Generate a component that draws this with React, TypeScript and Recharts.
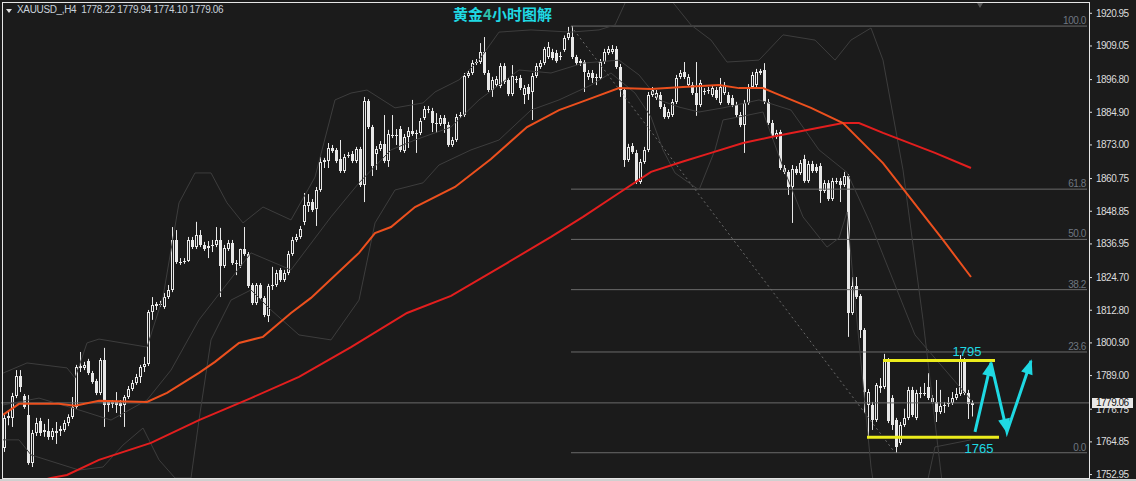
import React from 'react';
import { ComposedChart, Bar, Line, XAxis, YAxis, ReferenceLine, ReferenceDot } from 'recharts';

const BG = '#1b1b1b';
const CANDLE = '#e8e8e8';
const FAST = '#ec501e';
const SLOW = '#e31e1e';
const BAND = '#3d3d3d';
const FIB = '#6b6b6b';
const CYAN = '#1fd9e3';
const YELLOW = '#ecec1c';
const AXIS_FONT = 'Liberation Sans, Arial, sans-serif';

// XAUUSD H4 candles: open, high, low, close
const candles: number[][] = [
  [1762.7, 1774.7, 1761.2, 1773.6], [1773.6, 1775.8, 1770.9, 1774.3], [1773.6, 1782.7, 1770.3, 1781.6], [1781.6, 1791.0, 1780.8, 1788.9], [1788.9, 1791.0, 1783.0, 1784.9],
  [1781.6, 1782.3, 1776.9, 1777.6], [1774.7, 1781.9, 1756.5, 1757.2], [1757.2, 1769.2, 1755.7, 1768.1], [1768.1, 1773.6, 1767.0, 1771.7], [1772.5, 1773.6, 1767.0, 1768.1],
  [1769.2, 1771.4, 1766.7, 1768.5], [1768.8, 1773.2, 1765.6, 1766.7], [1766.7, 1769.9, 1765.6, 1768.8], [1768.8, 1772.1, 1764.1, 1768.1], [1768.8, 1770.7, 1767.0, 1769.6],
  [1769.2, 1772.8, 1768.5, 1771.7], [1771.7, 1774.9, 1770.6, 1773.9], [1773.9, 1781.2, 1773.2, 1777.6], [1777.6, 1792.9, 1776.9, 1792.1], [1791.8, 1797.6, 1790.3, 1792.5],
  [1791.8, 1794.0, 1791.0, 1792.9], [1794.3, 1795.1, 1789.2, 1789.9], [1789.9, 1790.7, 1786.0, 1786.7], [1787.0, 1787.8, 1781.9, 1782.7], [1782.7, 1795.4, 1781.9, 1794.7],
  [1794.7, 1799.1, 1770.3, 1778.3], [1779.4, 1780.1, 1775.8, 1778.3], [1778.7, 1780.1, 1777.2, 1779.4], [1779.4, 1783.0, 1775.4, 1778.3], [1779.0, 1780.1, 1773.9, 1777.9],
  [1778.3, 1781.9, 1770.3, 1781.2], [1781.2, 1785.2, 1780.5, 1784.1], [1784.1, 1787.4, 1783.4, 1786.3], [1786.3, 1789.6, 1785.6, 1788.5], [1788.5, 1792.9, 1786.3, 1792.1],
  [1792.1, 1795.8, 1790.3, 1793.2], [1793.2, 1812.9, 1792.5, 1812.2], [1812.2, 1817.6, 1809.3, 1814.7], [1814.4, 1815.8, 1812.9, 1815.1], [1814.7, 1816.2, 1814.0, 1815.1],
  [1814.0, 1819.1, 1813.3, 1817.6], [1817.6, 1822.0, 1816.9, 1820.2], [1820.2, 1843.1, 1819.4, 1838.4], [1838.4, 1842.0, 1829.7, 1830.4], [1830.4, 1831.8, 1829.3, 1830.0],
  [1830.4, 1831.8, 1829.7, 1830.7], [1830.7, 1839.5, 1830.4, 1838.4], [1838.4, 1839.5, 1835.1, 1835.8], [1835.8, 1845.0, 1835.1, 1840.2], [1840.2, 1842.0, 1835.8, 1836.6],
  [1836.6, 1837.7, 1834.4, 1835.1], [1835.5, 1838.0, 1831.8, 1836.2], [1836.2, 1838.4, 1834.0, 1836.6], [1836.6, 1843.1, 1835.8, 1838.4], [1838.4, 1842.8, 1817.6, 1828.9],
  [1828.9, 1836.6, 1828.2, 1835.5], [1835.1, 1838.4, 1834.4, 1837.3], [1837.3, 1838.4, 1829.3, 1830.0], [1830.0, 1831.1, 1825.6, 1829.6], [1828.9, 1835.2, 1828.2, 1835.1],
  [1835.1, 1843.1, 1832.6, 1833.3], [1833.3, 1834.0, 1820.9, 1821.6], [1822.0, 1822.7, 1814.7, 1815.4], [1815.4, 1822.7, 1814.7, 1822.0], [1822.0, 1822.7, 1816.5, 1817.3],
  [1817.3, 1818.0, 1810.3, 1811.1], [1810.7, 1822.4, 1808.5, 1821.6], [1821.6, 1828.6, 1820.2, 1822.0], [1822.0, 1827.5, 1821.3, 1826.4], [1827.5, 1828.2, 1823.1, 1823.8],
  [1823.8, 1827.5, 1823.1, 1826.4], [1826.4, 1834.4, 1825.6, 1833.3], [1833.3, 1839.5, 1832.6, 1838.4], [1838.4, 1840.6, 1837.7, 1839.5], [1839.5, 1843.5, 1838.8, 1842.4],
  [1844.9, 1855.5, 1843.8, 1851.1], [1850.8, 1855.1, 1848.6, 1852.2], [1852.2, 1853.3, 1848.6, 1849.3], [1849.7, 1857.7, 1843.5, 1856.6], [1856.6, 1868.6, 1855.9, 1866.8],
  [1866.8, 1868.3, 1864.6, 1867.5], [1867.2, 1873.7, 1864.6, 1871.9], [1871.9, 1873.0, 1870.1, 1870.8], [1871.2, 1871.9, 1866.4, 1867.2], [1867.9, 1874.8, 1862.8, 1863.5],
  [1863.5, 1869.7, 1862.8, 1868.6], [1869.0, 1870.4, 1868.3, 1869.4], [1869.7, 1870.8, 1866.4, 1867.2], [1867.2, 1872.3, 1866.4, 1871.5], [1871.5, 1872.3, 1857.7, 1858.4],
  [1858.4, 1890.5, 1852.2, 1889.0], [1889.0, 1889.7, 1878.8, 1879.5], [1879.5, 1880.3, 1861.7, 1865.3], [1869.7, 1872.6, 1863.9, 1871.5], [1871.5, 1874.4, 1870.8, 1873.4],
  [1873.4, 1883.9, 1866.4, 1867.2], [1867.2, 1878.5, 1865.0, 1877.0], [1876.3, 1883.9, 1875.5, 1876.6], [1876.6, 1878.8, 1873.0, 1876.3], [1878.8, 1879.9, 1870.4, 1871.2],
  [1870.8, 1877.0, 1870.1, 1875.9], [1875.9, 1879.5, 1871.9, 1878.1], [1878.1, 1889.4, 1876.3, 1877.0], [1877.4, 1878.5, 1870.1, 1877.0], [1877.4, 1882.8, 1876.6, 1881.7],
  [1882.8, 1887.2, 1882.1, 1886.1], [1885.7, 1887.2, 1884.6, 1886.1], [1885.4, 1886.5, 1877.7, 1881.0], [1881.0, 1884.6, 1877.4, 1880.6], [1880.6, 1883.9, 1879.9, 1882.8],
  [1882.8, 1883.9, 1877.4, 1880.6], [1880.3, 1881.4, 1872.3, 1873.0], [1873.0, 1875.9, 1872.3, 1874.8], [1874.8, 1884.3, 1874.1, 1883.2], [1883.6, 1885.0, 1882.8, 1883.9],
  [1883.9, 1899.2, 1883.2, 1898.1], [1898.1, 1900.3, 1897.4, 1899.2], [1899.2, 1903.9, 1898.5, 1902.9], [1902.9, 1904.3, 1902.1, 1903.2], [1903.2, 1910.1, 1902.5, 1906.9],
  [1906.9, 1912.3, 1898.5, 1899.2], [1899.2, 1900.3, 1892.3, 1893.0], [1893.0, 1897.8, 1890.5, 1896.7], [1894.8, 1898.1, 1894.1, 1897.0], [1894.5, 1902.8, 1893.7, 1901.8],
  [1901.8, 1902.8, 1895.2, 1895.9], [1896.7, 1897.4, 1890.8, 1891.6], [1891.6, 1902.1, 1890.8, 1898.1], [1897.0, 1898.1, 1895.6, 1896.7], [1897.4, 1898.5, 1893.0, 1893.7],
  [1891.2, 1894.8, 1887.9, 1893.7], [1894.1, 1895.2, 1889.4, 1891.6], [1892.3, 1899.2, 1882.1, 1898.1], [1898.1, 1902.8, 1897.4, 1901.8], [1901.4, 1903.9, 1900.7, 1902.9],
  [1902.9, 1908.7, 1902.1, 1908.0], [1905.0, 1910.5, 1904.3, 1908.7], [1906.9, 1908.0, 1903.9, 1904.7], [1906.5, 1907.6, 1902.9, 1903.6], [1905.0, 1906.9, 1903.9, 1905.4],
  [1907.6, 1912.9, 1906.9, 1912.0], [1912.0, 1916.0, 1911.2, 1913.8], [1912.3, 1916.3, 1904.3, 1905.0], [1905.0, 1905.8, 1902.1, 1902.9], [1903.6, 1904.3, 1901.8, 1902.9],
  [1903.2, 1903.9, 1892.3, 1899.6], [1897.8, 1900.3, 1896.7, 1899.2], [1899.2, 1900.3, 1895.6, 1897.4], [1897.8, 1898.9, 1894.8, 1897.4], [1897.4, 1904.3, 1896.7, 1903.2],
  [1903.2, 1908.0, 1902.5, 1906.9], [1906.5, 1909.0, 1905.8, 1908.0], [1906.9, 1909.4, 1906.1, 1908.0], [1908.0, 1909.0, 1900.7, 1901.4], [1901.4, 1902.5, 1890.5, 1893.0],
  [1893.0, 1893.7, 1865.0, 1867.5], [1867.5, 1873.4, 1866.8, 1872.3], [1872.6, 1873.7, 1869.7, 1870.4], [1870.1, 1871.2, 1858.8, 1859.5], [1859.5, 1867.9, 1858.8, 1866.8],
  [1866.8, 1872.3, 1866.1, 1871.2], [1871.2, 1892.3, 1870.4, 1891.2], [1891.2, 1894.1, 1890.5, 1893.0], [1890.1, 1893.0, 1889.4, 1891.9], [1891.2, 1892.3, 1886.1, 1886.8],
  [1886.8, 1887.9, 1882.5, 1883.2], [1883.2, 1886.1, 1882.5, 1885.0], [1883.9, 1889.7, 1883.2, 1888.7], [1888.7, 1898.5, 1887.9, 1897.4], [1897.8, 1900.3, 1897.0, 1899.2],
  [1899.6, 1903.2, 1897.0, 1897.8], [1894.8, 1898.8, 1894.1, 1897.8], [1894.8, 1895.9, 1891.2, 1891.9], [1891.9, 1903.2, 1883.6, 1887.5], [1887.5, 1896.7, 1886.8, 1895.6],
  [1892.3, 1893.7, 1891.2, 1892.7], [1893.0, 1894.1, 1891.6, 1892.7], [1891.2, 1894.8, 1890.5, 1893.7], [1893.0, 1894.1, 1889.4, 1890.1], [1888.3, 1897.4, 1887.6, 1894.1],
  [1891.9, 1895.9, 1891.2, 1894.8], [1891.2, 1892.3, 1887.6, 1888.3], [1890.1, 1891.2, 1886.8, 1887.5], [1887.5, 1888.7, 1883.2, 1883.9], [1883.9, 1885.0, 1879.5, 1880.3],
  [1880.3, 1889.4, 1870.1, 1888.3], [1888.3, 1895.2, 1887.6, 1894.1], [1894.1, 1899.6, 1893.4, 1898.5], [1894.8, 1900.7, 1894.1, 1899.6], [1899.2, 1900.7, 1898.5, 1899.9],
  [1900.3, 1902.8, 1887.9, 1888.7], [1888.7, 1889.7, 1880.3, 1881.0], [1881.0, 1882.1, 1875.2, 1875.9], [1875.9, 1878.5, 1875.2, 1877.4], [1877.7, 1878.5, 1863.9, 1864.6],
  [1864.6, 1865.7, 1862.4, 1863.2], [1863.2, 1863.9, 1854.8, 1857.7], [1857.7, 1865.7, 1844.6, 1864.3], [1864.3, 1865.3, 1862.1, 1862.8], [1862.8, 1867.5, 1862.1, 1866.4],
  [1867.9, 1869.4, 1859.2, 1859.9], [1859.9, 1867.2, 1859.2, 1866.1], [1866.1, 1867.2, 1862.8, 1863.5], [1865.0, 1866.1, 1862.8, 1863.5], [1865.3, 1866.4, 1851.9, 1856.2],
  [1856.2, 1860.2, 1855.5, 1859.2], [1859.2, 1860.2, 1852.6, 1853.3], [1853.3, 1861.0, 1852.6, 1859.9], [1859.5, 1861.0, 1858.8, 1859.9], [1859.9, 1861.0, 1852.2, 1858.4],
  [1858.4, 1863.2, 1857.7, 1861.7], [1861.7, 1862.4, 1803.1, 1811.8], [1811.8, 1824.9, 1811.1, 1821.6], [1821.6, 1824.9, 1816.9, 1817.6], [1817.9, 1818.7, 1802.7, 1805.6],
  [1805.6, 1806.3, 1775.4, 1783.0], [1778.3, 1784.1, 1766.6, 1783.0], [1778.3, 1779.4, 1769.2, 1772.8], [1772.8, 1786.3, 1772.1, 1785.6], [1784.5, 1788.1, 1782.7, 1785.2],
  [1784.9, 1796.9, 1784.1, 1794.7], [1794.3, 1795.4, 1771.7, 1772.5], [1780.8, 1781.9, 1769.2, 1771.0], [1772.8, 1773.6, 1760.8, 1763.0], [1764.5, 1772.1, 1763.7, 1771.0],
  [1771.0, 1776.9, 1770.3, 1773.6], [1773.6, 1784.9, 1772.8, 1783.8], [1783.8, 1784.9, 1773.9, 1774.7], [1773.6, 1783.8, 1772.8, 1782.7], [1782.3, 1784.9, 1780.8, 1782.7],
  [1782.7, 1786.3, 1781.6, 1782.3], [1784.9, 1789.9, 1780.1, 1780.8], [1780.8, 1781.9, 1778.7, 1779.4], [1779.4, 1787.4, 1772.1, 1775.8], [1775.8, 1783.8, 1775.0, 1777.9],
  [1777.9, 1779.4, 1775.4, 1778.3], [1778.7, 1781.2, 1777.6, 1779.0], [1779.0, 1783.0, 1778.3, 1780.8], [1780.8, 1784.5, 1780.1, 1782.3], [1782.3, 1796.5, 1781.6, 1794.3],
  [1794.3, 1795.4, 1781.9, 1782.7], [1782.7, 1783.8, 1773.2, 1778.7], [1778.22, 1779.94, 1774.10, 1779.06],
];

// moving averages, read at a few bars: [bar, price]
const maFast = [
  [0, 1774.7], [4, 1778.7], [14, 1778.7], [18, 1778.0], [24, 1779.8], [36, 1779.4], [41, 1782.7], [49, 1790.0],
  [53, 1794.0], [59, 1800.9], [65, 1803.1], [72, 1811.8], [77, 1817.3], [89, 1833.7], [93, 1840.9], [97, 1843.1],
  [103, 1850.4], [113, 1857.7], [122, 1867.9], [131, 1879.5], [139, 1885.7], [146, 1889.4], [154, 1893.7], [162, 1893.4],
  [170, 1894.1], [179, 1894.8], [184, 1893.7], [190, 1893.7], [193, 1891.9], [202, 1886.5], [210, 1881.0], [220, 1866.4],
  [235, 1838.4], [242, 1824.9],
];
const maSlow = [
  [8, 1750.2], [12, 1751.7], [16, 1752.8], [24, 1758.3], [37, 1764.5], [49, 1772.8], [62, 1780.8], [74, 1788.5],
  [87, 1799.4], [101, 1811.8], [112, 1818.0], [126, 1830.0], [137, 1839.5], [145, 1846.8], [154, 1855.5], [162, 1863.2],
  [170, 1867.0], [177, 1870.1], [185, 1873.7], [192, 1875.9], [210, 1881.0], [214, 1881.0], [220, 1877.4], [233, 1870.1],
  [242, 1864.6],
];

// bollinger bands
const bandUpper = [
  [0, 1789.9], [6, 1793.6], [16, 1791.8], [18, 1788.1], [21, 1800.9], [24, 1802.3], [36, 1799.4], [40, 1817.6],
  [44, 1851.9], [48, 1862.8], [52, 1862.8], [56, 1851.9], [60, 1844.6], [65, 1850.4], [72, 1845.7], [78, 1861.3],
  [83, 1889.4], [87, 1891.9], [91, 1893.0], [98, 1886.5], [105, 1888.3], [108, 1892.3], [114, 1896.7], [119, 1903.9],
  [124, 1914.1], [132, 1914.9], [142, 1914.1], [149, 1914.9], [153, 1916.7], [157, 1929.4], [165, 1929.4], [172, 1916.7],
  [177, 1911.2], [181, 1903.2], [189, 1903.9], [195, 1913.1], [203, 1911.2], [208, 1903.9], [212, 1911.2], [217, 1915.6],
  [220, 1903.9], [225, 1863.9], [230, 1809.3], [235, 1747.3],
];
const bandMid = [
  [0, 1778.3], [9, 1780.8], [19, 1776.5], [27, 1772.8], [36, 1780.1], [42, 1791.0], [49, 1809.3], [62, 1833.7],
  [72, 1827.5], [82, 1846.8], [89, 1859.2], [97, 1871.2], [103, 1874.8], [112, 1879.5], [119, 1889.4], [129, 1900.3],
  [137, 1899.2], [145, 1902.8], [154, 1903.9], [159, 1898.5], [164, 1889.4], [169, 1886.8], [174, 1885.0], [180, 1886.5],
  [189, 1889.4], [197, 1885.7], [204, 1871.2], [211, 1863.0], [217, 1843.9], [228, 1803.8], [242, 1780.1],
];
const bandLower = [
  [0, 1765.6], [4, 1765.6], [7, 1760.1], [19, 1754.6], [25, 1755.7], [30, 1763.7], [35, 1769.9], [39, 1758.3],
  [43, 1751.7], [47, 1751.7], [49, 1772.8], [52, 1802.0], [57, 1816.5], [62, 1820.2], [67, 1812.9], [74, 1803.8],
  [82, 1802.0], [89, 1816.5], [93, 1844.6], [98, 1856.6], [105, 1859.2], [109, 1865.7], [117, 1871.2], [124, 1874.8],
  [132, 1885.7], [139, 1889.4], [147, 1894.8], [152, 1899.2], [158, 1891.9], [162, 1883.2], [165, 1871.2], [168, 1862.8],
  [174, 1856.6], [178, 1871.2], [180, 1882.1], [184, 1883.2], [190, 1885.0], [195, 1865.0], [200, 1846.8], [206, 1835.8],
  [209, 1839.1], [211, 1848.6], [213, 1816.5], [217, 1755.7], [219, 1736.4], [229, 1736.4], [233, 1763.0], [242, 1765.6],
];

// hand-drawn forecast arrows
const forecast = [[243, 1768.5], [247, 1793.6], [251, 1768.5], [257, 1794.3]];

const fibRatios = ['100.0', '61.8', '50.0', '38.2', '23.6', '0.0'];
const fibPrices = [1916.3, 1856.9, 1838.6, 1820.3, 1797.6, 1760.9];
const fibFrom = 142;
const fibTo = 223;

const priceTicks = [1920.95, 1909.05, 1896.8, 1884.9, 1873.0, 1860.75, 1848.85, 1836.95, 1824.7, 1812.8, 1800.9, 1789.0, 1776.75, 1764.85, 1752.95];
const lastPrice = 1779.06;
const rangeTop = 1794.5;
const rangeBottom = 1766.5;

const TOTAL = 272;

const rows: any[] = Array.from({ length: TOTAL }, (_, i) => {
  const k = candles[i];
  return k ? { i, o: k[0], h: k[1], l: k[2], c: k[3], range: [k[2], k[1]] } : { i };
});
const put = (pts: number[][], key: string) => pts.forEach(([i, v]) => { rows[i][key] = v; });
put(maFast, 'fast');
put(maSlow, 'slow');
put(bandUpper, 'bu');
put(bandMid, 'bm');
put(bandLower, 'bl');
put(forecast, 'fc');

const Candle = (props: any) => {
  const { x, y, width, height, payload } = props;
  if (!payload || payload.o == null || height == null) return <g />;
  const { o, h, l, c } = payload;
  const cx = Math.round(x + width / 2);
  const span = h - l || 1;
  const py = (p: number) => y + ((h - p) / span) * height;
  const top = Math.round(py(Math.max(o, c)));
  const bot = Math.round(py(Math.min(o, c)));
  const bodyH = Math.max(1, bot - top);
  const bull = c > o;
  return (
    <g>
      <rect x={cx} y={py(h)} width={1} height={Math.max(1, py(l) - py(h))} fill={CANDLE} />
      {bull && bodyH > 2 ? (
        <rect x={cx - 0.5} y={top + 0.5} width={2} height={bodyH - 1} fill={BG} stroke={CANDLE} strokeWidth={1} />
      ) : (
        <rect x={cx - 1} y={top} width={3} height={bodyH} fill={CANDLE} />
      )}
    </g>
  );
};

const ArrowHead = (props: any) => {
  const { cx, cy, index, points } = props;
  if (cx == null || cy == null || !points) return <g key={`ah-${index}`} />;
  let prev: any = null;
  for (let j = index - 1; j >= 0; j--) {
    if (points[j] && points[j].y != null && points[j].value != null) { prev = points[j]; break; }
  }
  if (!prev) return <g key={`ah-${index}`} />;
  const ang = Math.atan2(cy - prev.y, cx - prev.x);
  const len = 13;
  const hw = 6;
  const bx = cx - len * Math.cos(ang);
  const by = cy - len * Math.sin(ang);
  const ox = -Math.sin(ang) * hw;
  const oy = Math.cos(ang) * hw;
  return (
    <polygon key={`ah-${index}`} points={`${cx + 2 * Math.cos(ang)},${cy + 2 * Math.sin(ang)} ${bx + ox},${by + oy} ${bx - ox},${by - oy}`} fill={CYAN} />
  );
};

const PriceTick = (props: any) => {
  const { x, y, payload } = props;
  return (
    <text x={x} y={y} dy={3.5} fill="#dcdcdc" fontSize={10} fontFamily={AXIS_FONT} letterSpacing={-0.5} textAnchor="start">
      {Number(payload.value).toFixed(2)}
    </text>
  );
};

const FibLabel = (props: any) => {
  const vb = props.viewBox || {};
  const right = vb.x2 != null ? Math.max(vb.x1, vb.x2) : (vb.x || 0) + (vb.width || 0);
  const yy = vb.y1 != null ? vb.y1 : vb.y;
  return (
    <text x={right - 1} y={yy - 2} textAnchor="end" fill="#6f7780" fontSize={10} fontFamily={AXIS_FONT} letterSpacing={-0.4}>
      {props.text}
    </text>
  );
};

export default function App() {
  return (
    <div style={{ position: 'fixed', left: 0, top: 0, width: 1136, height: 481, background: BG, overflow: 'hidden' }}>
      <ComposedChart width={1136} height={481} data={rows} margin={{ top: 3, right: 0, bottom: 3, left: 1 }} barCategoryGap={0} barGap={0}>
        <XAxis dataKey="i" hide />
        <YAxis
          orientation="right"
          domain={[1751.7, 1924.7]}
          allowDataOverflow
          ticks={priceTicks}
          interval={0}
          width={47}
          axisLine={false}
          tickLine={{ stroke: '#e0e0e0' }}
          tickSize={3}
          tickMargin={4}
          tick={<PriceTick />}
        />
        <ReferenceLine y={lastPrice} stroke={FIB} strokeWidth={1} />
        {fibPrices.map((p, k) => (
          <ReferenceLine
            key={fibRatios[k]}
            segment={[{ x: fibFrom, y: p }, { x: TOTAL - 1, y: p }]}
            stroke={FIB}
            strokeWidth={1}
            label={<FibLabel text={fibRatios[k]} />}
          />
        ))}
        <ReferenceLine
          segment={[{ x: fibFrom, y: fibPrices[0] }, { x: fibTo, y: fibPrices[5] }]}
          stroke="#6a6a6a"
          strokeDasharray="2 3"
        />
        <Line dataKey="bu" stroke={BAND} strokeWidth={1} dot={false} connectNulls isAnimationActive={false} />
        <Line dataKey="bm" stroke={BAND} strokeWidth={1} dot={false} connectNulls isAnimationActive={false} />
        <Line dataKey="bl" stroke={BAND} strokeWidth={1} dot={false} connectNulls isAnimationActive={false} />
        <Bar dataKey="range" barSize={3} shape={<Candle />} isAnimationActive={false} />
        <Line dataKey="slow" stroke={SLOW} strokeWidth={2} dot={false} connectNulls isAnimationActive={false} />
        <Line dataKey="fast" stroke={FAST} strokeWidth={2} dot={false} connectNulls isAnimationActive={false} />
        <ReferenceLine segment={[{ x: 220, y: rangeTop }, { x: 248, y: rangeTop }]} stroke={YELLOW} strokeWidth={3} />
        <ReferenceLine segment={[{ x: 216, y: rangeBottom }, { x: 249, y: rangeBottom }]} stroke={YELLOW} strokeWidth={3} />
        <Line dataKey="fc" stroke={CYAN} strokeWidth={3} dot={ArrowHead} connectNulls isAnimationActive={false} />
        <ReferenceDot x={241} y={1797.9} r={0} fill="none" stroke="none"
          label={{ value: '1795', position: 'center', fill: CYAN, fontSize: 13, fontFamily: AXIS_FONT }} />
        <ReferenceDot x={244} y={1762.6} r={0} fill="none" stroke="none"
          label={{ value: '1765', position: 'center', fill: CYAN, fontSize: 13, fontFamily: AXIS_FONT }} />
      </ComposedChart>

      {/* chart frame and bits of MT4 chrome */}
      <div style={{ position: 'absolute', left: 2, top: 2, width: 1088, height: 477, border: '1px solid #e6e6e6', boxSizing: 'border-box', pointerEvents: 'none' }} />
      <div style={{ position: 'absolute', left: 0, top: 479, width: 1136, height: 2, background: '#d0d0d0' }} />
      <div style={{ position: 'absolute', left: 6, top: 9, width: 0, height: 0, borderLeft: '3px solid transparent', borderRight: '3px solid transparent', borderTop: '4px solid #e0e0e0' }} />
      <div style={{ position: 'absolute', left: 977, top: 3, width: 0, height: 0, borderLeft: '3px solid transparent', borderRight: '3px solid transparent', borderTop: '5px solid #555' }} />
      <div style={{ position: 'absolute', left: 17, top: 4, fontFamily: AXIS_FONT, fontSize: 10, lineHeight: '12px', letterSpacing: '-0.35px', color: '#c9d1da', whiteSpace: 'pre' }}>
        {'XAUUSD_,H4  1778.22 1779.94 1774.10 1779.06'}
      </div>
      <div style={{ position: 'absolute', left: 453, top: 6, fontFamily: '"Noto Sans CJK SC", sans-serif', fontSize: 15, lineHeight: '15px', fontWeight: 700, color: CYAN, whiteSpace: 'pre' }}>
        黄金<span style={{ color: '#2bbfa8' }}>4</span>小时图解
      </div>
      <div style={{ position: 'absolute', left: 1092, top: 398, width: 41, height: 10, background: '#e8e8e8', color: '#111', fontFamily: AXIS_FONT, fontSize: 10, lineHeight: '10px', letterSpacing: '-0.5px', paddingLeft: 4, boxSizing: 'border-box' }}>
        1779.06
      </div>
    </div>
  );
}
